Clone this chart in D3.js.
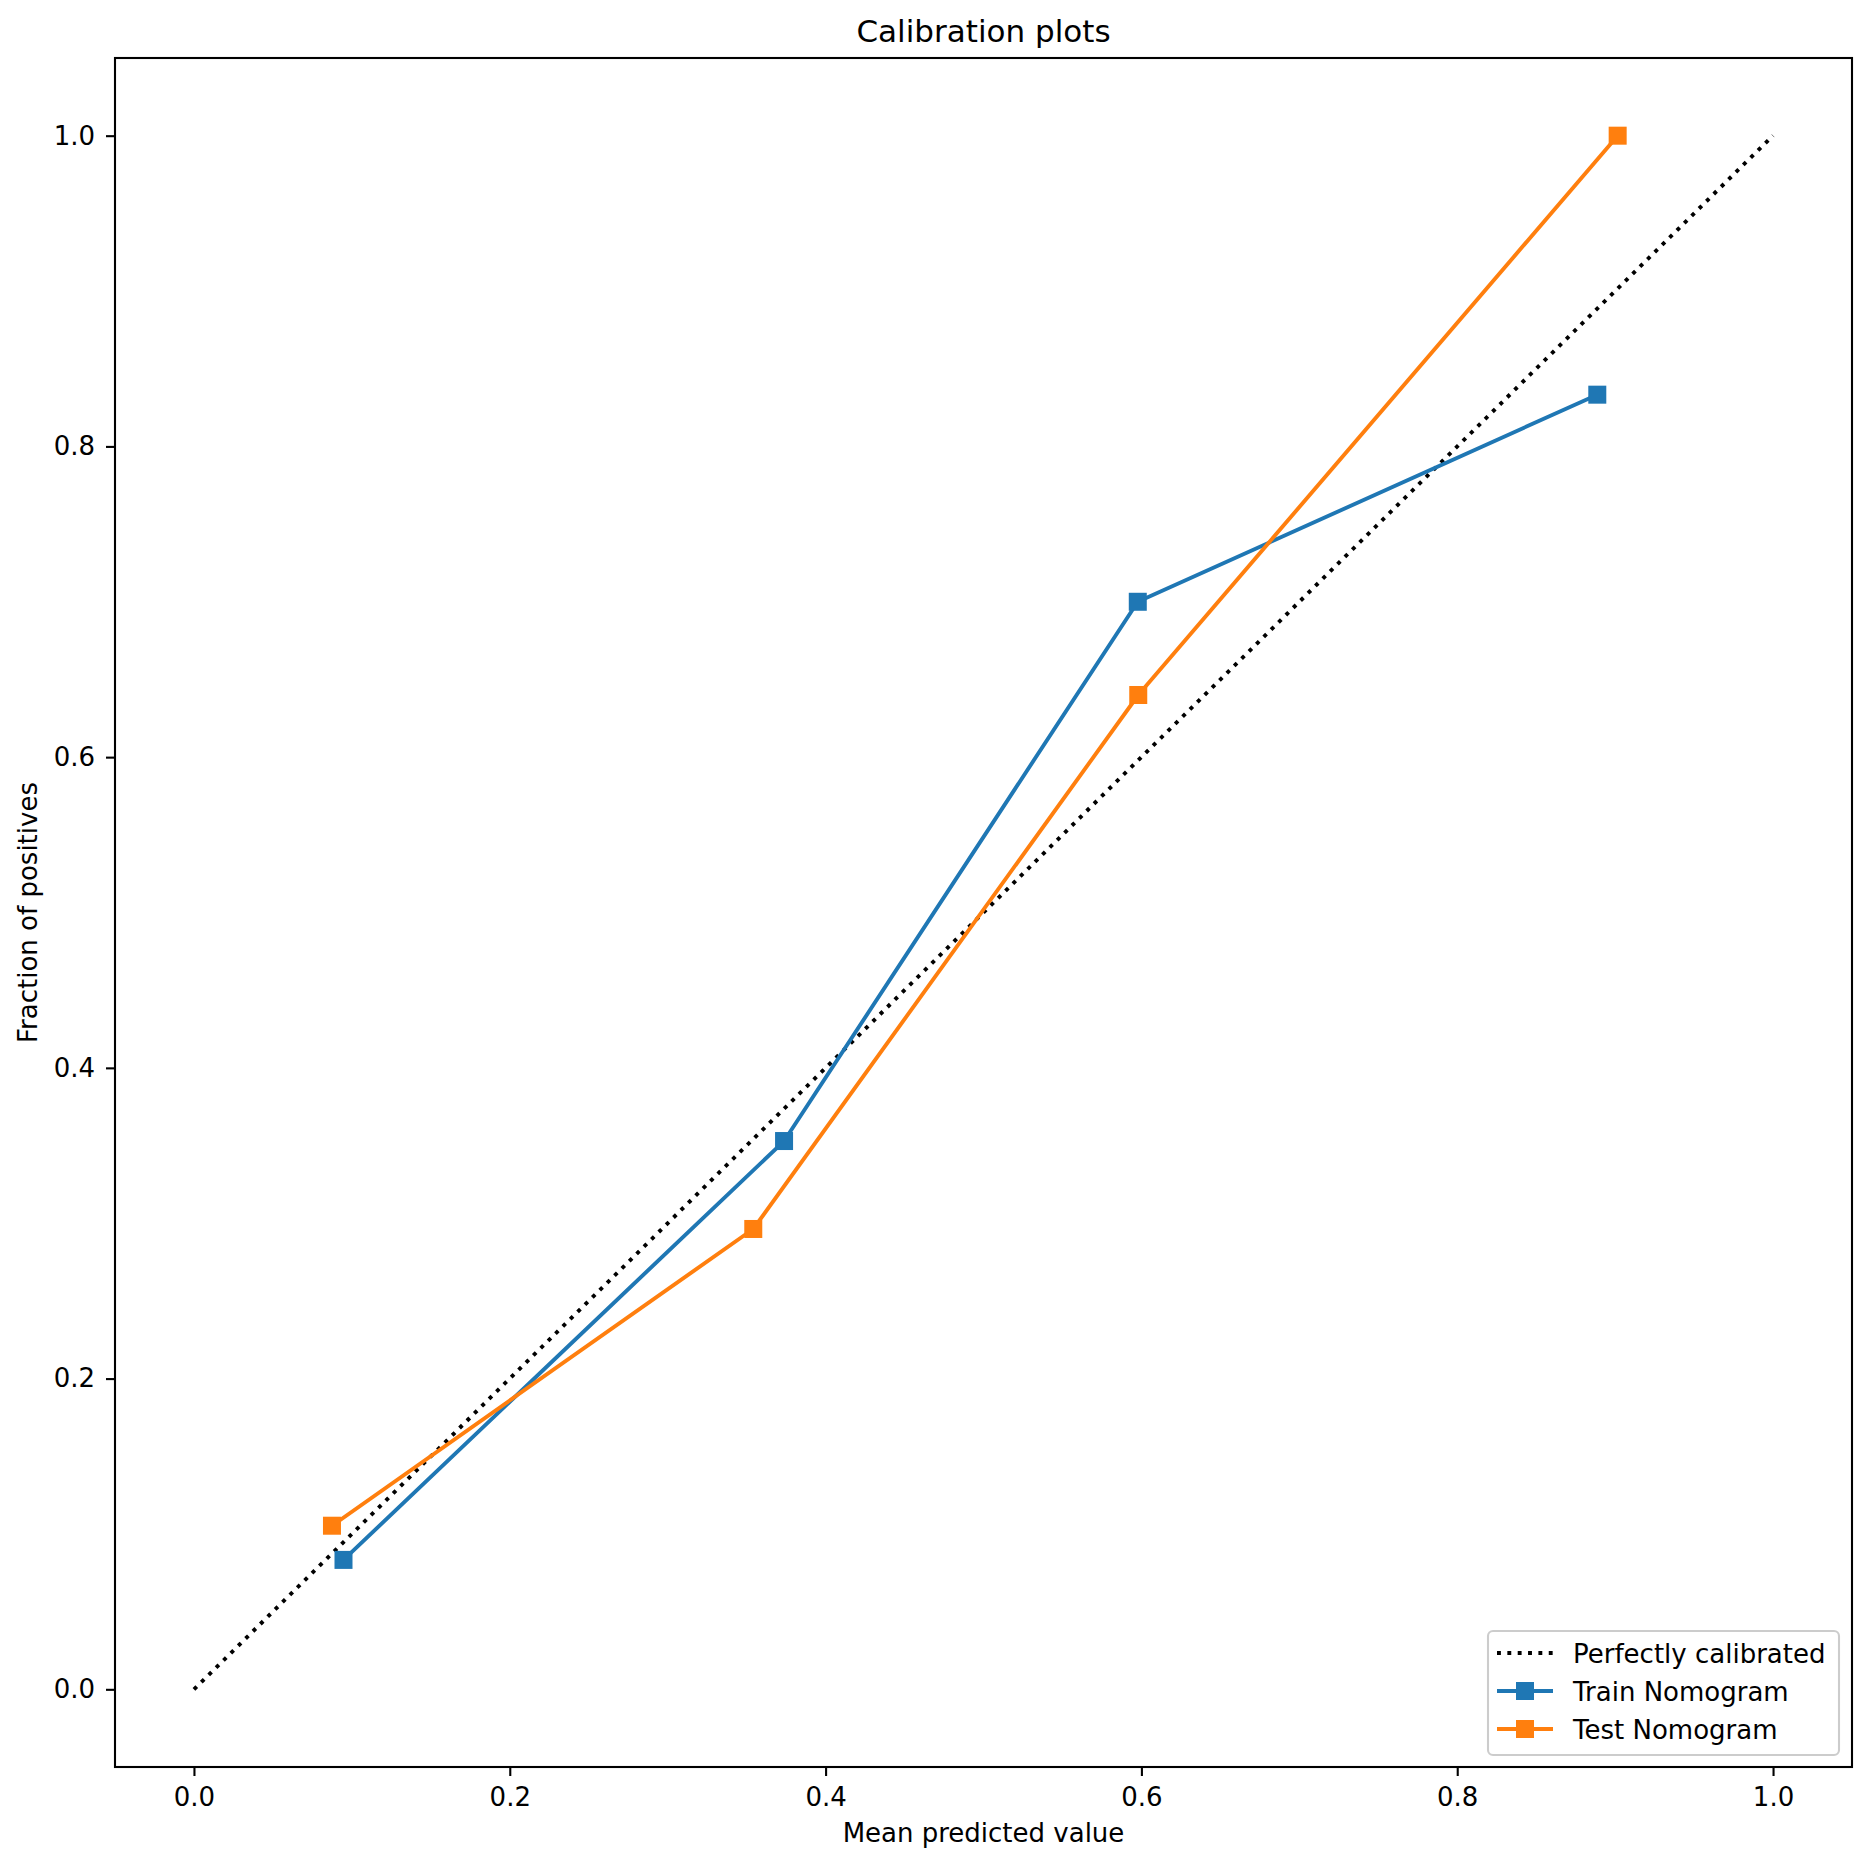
<!DOCTYPE html>
<html>
<head>
<meta charset="utf-8">
<script src="https://cdn.jsdelivr.net/npm/d3@7"></script>
<style>
  html, body { margin: 0; padding: 0; background: #fff; }
  svg { display: block; font-family: "DejaVu Sans", sans-serif; }
</style>
</head>
<body>
<svg id="chart" width="1871" height="1866"></svg>
<script>
// ---- data ----
const perfectX = [0, 1];
const perfectY = [0, 1];
const trainX = [0.0947, 0.3737, 0.5977, 0.8887];
const trainY = [0.0833, 0.3529, 0.7000, 0.8333];
const testX  = [0.0874, 0.3542, 0.5980, 0.9016];
const testY  = [0.1053, 0.2963, 0.6400, 1.0000];
const xTicks = [0.0, 0.2, 0.4, 0.6, 0.8, 1.0];
const yTicks = [0.0, 0.2, 0.4, 0.6, 0.8, 1.0];
const seriesNames = ["Perfectly calibrated", "Train Nomogram", "Test Nomogram"];
const titleText = "Calibration plots";
const xLabelText = "Mean predicted value";
const yLabelText = "Fraction of positives";

// ---- layout ----
const L = 115, R = 1852, T = 58, B = 1767;
const blue = "#1f77b4", orange = "#ff7f0e";
const lw = 3.9, ms = 18, fs = 26;

const svg = d3.select("#chart");
const x = d3.scaleLinear().domain([-0.05, 1.05]).range([L, R]);
const y = d3.scaleLinear().domain([-0.05, 1.05]).range([B, T]);

// axes
const xAxis = d3.axisBottom(x).tickValues(xTicks).tickFormat(d3.format(".1f"))
  .tickSize(9).tickPadding(12).tickSizeOuter(0);
const yAxis = d3.axisLeft(y).tickValues(yTicks).tickFormat(d3.format(".1f"))
  .tickSize(9).tickPadding(11).tickSizeOuter(0);

const gx = svg.append("g").attr("transform", `translate(0,${B})`).call(xAxis);
const gy = svg.append("g").attr("transform", `translate(${L},0)`).call(yAxis);
[gx, gy].forEach(g => {
  g.select(".domain").remove();
  g.selectAll(".tick line").attr("stroke", "#000").attr("stroke-width", 2.1);
  g.selectAll(".tick text").attr("fill", "#000").style("font-size", fs + "px")
    .style("font-family", "DejaVu Sans, sans-serif");
});

// clip
svg.append("clipPath").attr("id", "clip").append("rect")
  .attr("x", L).attr("y", T).attr("width", R - L).attr("height", B - T);
const plot = svg.append("g").attr("clip-path", "url(#clip)");

const line = d3.line().x(d => x(d[0])).y(d => y(d[1]));

// perfectly calibrated
plot.append("path").datum(perfectX.map((v, i) => [v, perfectY[i]]))
  .attr("d", line).attr("fill", "none").attr("stroke", "#000")
  .attr("stroke-width", lw).attr("stroke-dasharray", "3.9,6.45");

function drawSeries(xs, ys, color) {
  const pts = xs.map((v, i) => [v, ys[i]]);
  plot.append("path").datum(pts).attr("d", line).attr("fill", "none")
    .attr("stroke", color).attr("stroke-width", lw).attr("stroke-linejoin", "round");
  plot.selectAll(null).data(pts).enter().append("rect")
    .attr("x", d => x(d[0]) - ms / 2).attr("y", d => y(d[1]) - ms / 2)
    .attr("width", ms).attr("height", ms).attr("fill", color);
}
drawSeries(trainX, trainY, blue);
drawSeries(testX, testY, orange);

// frame
svg.append("rect").attr("x", L).attr("y", T).attr("width", R - L).attr("height", B - T)
  .attr("fill", "none").attr("stroke", "#000").attr("stroke-width", 2.1);

// title & labels
svg.append("text").attr("x", (L + R) / 2).attr("y", 42).attr("text-anchor", "middle")
  .style("font-size", "31px").text(titleText);
svg.append("text").attr("x", (L + R) / 2).attr("y", 1842).attr("text-anchor", "middle")
  .style("font-size", fs + "px").text(xLabelText);
svg.append("text").attr("transform", `translate(37,${(T + B) / 2}) rotate(-90)`)
  .attr("text-anchor", "middle").style("font-size", fs + "px").text(yLabelText);

// legend
const lg = svg.append("g");
lg.append("rect").attr("x", 1488).attr("y", 1631).attr("width", 351).attr("height", 124)
  .attr("rx", 5).attr("fill", "#fff").attr("fill-opacity", 0.8)
  .attr("stroke", "#cccccc").attr("stroke-width", 2.1);
const rowsY = [1653, 1691, 1729];
const styles = [
  { color: "#000", dash: "3.9,6.45", marker: false },
  { color: blue, dash: null, marker: true },
  { color: orange, dash: null, marker: true }
];
seriesNames.forEach((name, i) => {
  const ry = rowsY[i], s = styles[i];
  lg.append("line").attr("x1", 1497).attr("x2", 1553).attr("y1", ry).attr("y2", ry)
    .attr("stroke", s.color).attr("stroke-width", lw)
    .attr("stroke-dasharray", s.dash);
  if (s.marker) {
    lg.append("rect").attr("x", 1525 - ms / 2).attr("y", ry - ms / 2)
      .attr("width", ms).attr("height", ms).attr("fill", s.color);
  }
  lg.append("text").attr("x", 1573).attr("y", ry + 9.5)
    .style("font-size", fs + "px").text(name);
});
</script>
</body>
</html>
